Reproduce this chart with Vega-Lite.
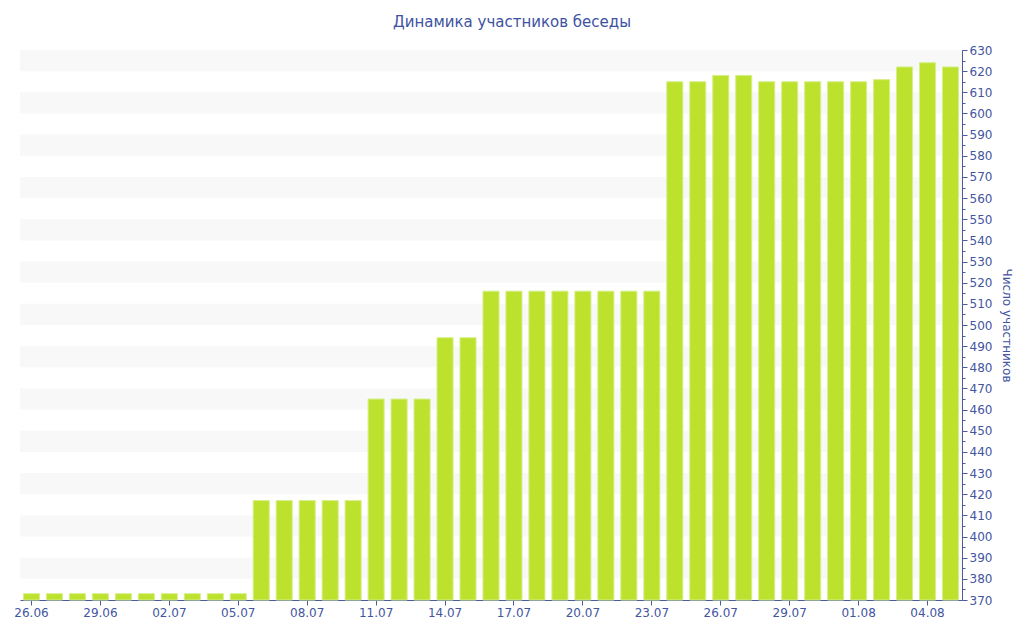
{
  "$schema": "https://vega.github.io/schema/vega-lite/v6.json",
  "width": 942,
  "height": 550,
  "autosize": {"type": "none"},
  "padding": {"left": 20, "top": 50, "right": 62, "bottom": 40},
  "background": "white",
  "title": {
    "text": "Динамика участников беседы",
    "font": "DejaVu Sans",
    "fontSize": 15,
    "fontWeight": "normal",
    "color": "#3e52a2",
    "offset": 14,
    "dx": 21
  },
  "config": {
    "view": {"stroke": null},
    "axis": {
      "labelFont": "DejaVu Sans",
      "titleFont": "DejaVu Sans",
      "labelColor": "#43559f",
      "titleColor": "#43559f",
      "domainColor": "#4b5b9d",
      "tickColor": "#4b5b9d",
      "grid": false
    }
  },
  "datasets": {
    "bands": [
      {"lo": 380, "hi": 390}, {"lo": 400, "hi": 410}, {"lo": 420, "hi": 430},
      {"lo": 440, "hi": 450}, {"lo": 460, "hi": 470}, {"lo": 480, "hi": 490},
      {"lo": 500, "hi": 510}, {"lo": 520, "hi": 530}, {"lo": 540, "hi": 550},
      {"lo": 560, "hi": 570}, {"lo": 580, "hi": 590}, {"lo": 600, "hi": 610},
      {"lo": 620, "hi": 630}
    ],
    "members": [
      {"d": "26.06", "n": 373}, {"d": "27.06", "n": 373}, {"d": "28.06", "n": 373},
      {"d": "29.06", "n": 373}, {"d": "30.06", "n": 373}, {"d": "01.07", "n": 373},
      {"d": "02.07", "n": 373}, {"d": "03.07", "n": 373}, {"d": "04.07", "n": 373},
      {"d": "05.07", "n": 373}, {"d": "06.07", "n": 417}, {"d": "07.07", "n": 417},
      {"d": "08.07", "n": 417}, {"d": "09.07", "n": 417}, {"d": "10.07", "n": 417},
      {"d": "11.07", "n": 465}, {"d": "12.07", "n": 465}, {"d": "13.07", "n": 465},
      {"d": "14.07", "n": 494}, {"d": "15.07", "n": 494}, {"d": "16.07", "n": 516},
      {"d": "17.07", "n": 516}, {"d": "18.07", "n": 516}, {"d": "19.07", "n": 516},
      {"d": "20.07", "n": 516}, {"d": "21.07", "n": 516}, {"d": "22.07", "n": 516},
      {"d": "23.07", "n": 516}, {"d": "24.07", "n": 615}, {"d": "25.07", "n": 615},
      {"d": "26.07", "n": 618}, {"d": "27.07", "n": 618}, {"d": "28.07", "n": 615},
      {"d": "29.07", "n": 615}, {"d": "30.07", "n": 615}, {"d": "31.07", "n": 615},
      {"d": "01.08", "n": 615}, {"d": "02.08", "n": 616}, {"d": "03.08", "n": 622},
      {"d": "04.08", "n": 624}, {"d": "05.08", "n": 622}
    ]
  },
  "layer": [
    {
      "data": {"name": "bands"},
      "mark": {"type": "rect", "color": "#f8f8f8"},
      "encoding": {
        "y": {
          "field": "lo",
          "type": "quantitative",
          "scale": {"domain": [370, 630], "nice": false, "zero": false},
          "axis": {
            "orient": "right",
            "title": "Число участников",
            "titleFontSize": 12,
            "titleFontWeight": "normal",
            "titlePadding": 8,
            "labelFontSize": 12,
            "labelPadding": 2,
            "labelOverlap": false,
            "labelFlush": false,
            "values": [370, 375, 380, 385, 390, 395, 400, 405, 410, 415, 420, 425, 430, 435, 440, 445, 450, 455, 460, 465, 470, 475, 480, 485, 490, 495, 500, 505, 510, 515, 520, 525, 530, 535, 540, 545, 550, 555, 560, 565, 570, 575, 580, 585, 590, 595, 600, 605, 610, 615, 620, 625, 630],
            "labelExpr": "datum.value % 10 === 0 ? datum.label : ''",
            "tickSize": {"expr": "datum.value % 10 === 0 ? 5 : 3"}
          }
        },
        "y2": {"field": "hi"}
      }
    },
    {
      "data": {"name": "members"},
      "mark": {"type": "bar", "color": "#bde22e", "stroke": "#d6ef8c", "strokeWidth": 1},
      "encoding": {
        "x": {
          "field": "d",
          "type": "ordinal",
          "sort": null,
          "scale": {"paddingInner": 0.3, "paddingOuter": 0.15},
          "axis": {
            "title": null,
            "labelAngle": 0,
            "labelFontSize": 12,
            "tickSize": 5,
            "labelPadding": 2,
            "values": ["26.06", "29.06", "02.07", "05.07", "08.07", "11.07", "14.07", "17.07", "20.07", "23.07", "26.07", "29.07", "01.08", "04.08"]
          }
        },
        "y": {
          "field": "n",
          "type": "quantitative",
          "scale": {"domain": [370, 630], "nice": false, "zero": false},
          "axis": {
            "orient": "right",
            "title": "Число участников",
            "titleFontSize": 12,
            "titleFontWeight": "normal",
            "titlePadding": 8,
            "labelFontSize": 12,
            "labelPadding": 2,
            "labelOverlap": false,
            "labelFlush": false,
            "values": [370, 375, 380, 385, 390, 395, 400, 405, 410, 415, 420, 425, 430, 435, 440, 445, 450, 455, 460, 465, 470, 475, 480, 485, 490, 495, 500, 505, 510, 515, 520, 525, 530, 535, 540, 545, 550, 555, 560, 565, 570, 575, 580, 585, 590, 595, 600, 605, 610, 615, 620, 625, 630],
            "labelExpr": "datum.value % 10 === 0 ? datum.label : ''",
            "tickSize": {"expr": "datum.value % 10 === 0 ? 5 : 3"}
          }
        },
        "y2": {"datum": 370}
      }
    }
  ]
}
